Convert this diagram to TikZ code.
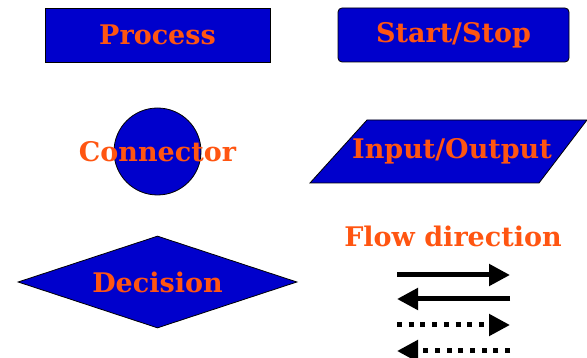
\documentclass[tikz,border=0pt]{standalone}
\usepackage{fontspec}
\setmainfont{DejaVu Serif}
\usetikzlibrary{arrows.meta,shapes.geometric}

\definecolor{fillblue}{HTML}{0000CC}
\definecolor{txtorange}{HTML}{FF5511}

\begin{document}
\begin{tikzpicture}[
		x=1pt, y=-1pt,
		lbl/.style={text=txtorange, font=\bfseries\fontsize{27}{32}\selectfont, inner sep=0pt},
		shp/.style={draw=black, line width=0.8pt, fill=fillblue, inner sep=0pt},
		proc/.style={shp, minimum width=225pt, minimum height=54pt},
		term/.style={shp, rounded corners=4pt, minimum width=231pt, minimum height=54pt},
		conn/.style={shp, circle, minimum size=87pt},
		decide/.style={shp, diamond, aspect=3.03, minimum width=279pt, minimum height=92pt},
		flow/.style={line width=5pt, -{Triangle[length=21pt, width=21pt]}},
		dots/.style={flow, dash pattern=on 5pt off 6.7pt}
	]
	\useasboundingbox (0,0) rectangle (587,358);

	\node[proc, lbl] (process) at (157.5,35) {Process};
	\node[term, lbl] (startstop) at (453.5,35) {Start/Stop};

	\node[conn] (connector) at (157.5,151.5) {};
	\node[lbl] (connlabel) at (connector) {Connector};

	% parallelogram for input/output
	\draw[shp] (310,183) -- (367,120) -- (587,120) -- (539,183) -- cycle;
	\node[lbl] (inout) at (452,151.5) {Input/Output};

	\node[decide, lbl] (decision) at (157.5,282) {Decision};
	\node[lbl] (flowlabel) at (453,236) {Flow direction};

	\coordinate (a1) at (397,275);
	\coordinate (b1) at (510,275);
	\coordinate (a2) at (510,299);
	\coordinate (b2) at (397,299);
	\coordinate (a3) at (397,325);
	\coordinate (b3) at (510,325);
	\coordinate (a4) at (510,351);
	\coordinate (b4) at (397,351);

	\draw[flow] (a1) -- (b1);
	\draw[flow] (a2) -- (b2);
	\draw[dots] (a3) -- (b3);
	\draw[dots] (a4) -- (b4);
\end{tikzpicture}
\end{document}
